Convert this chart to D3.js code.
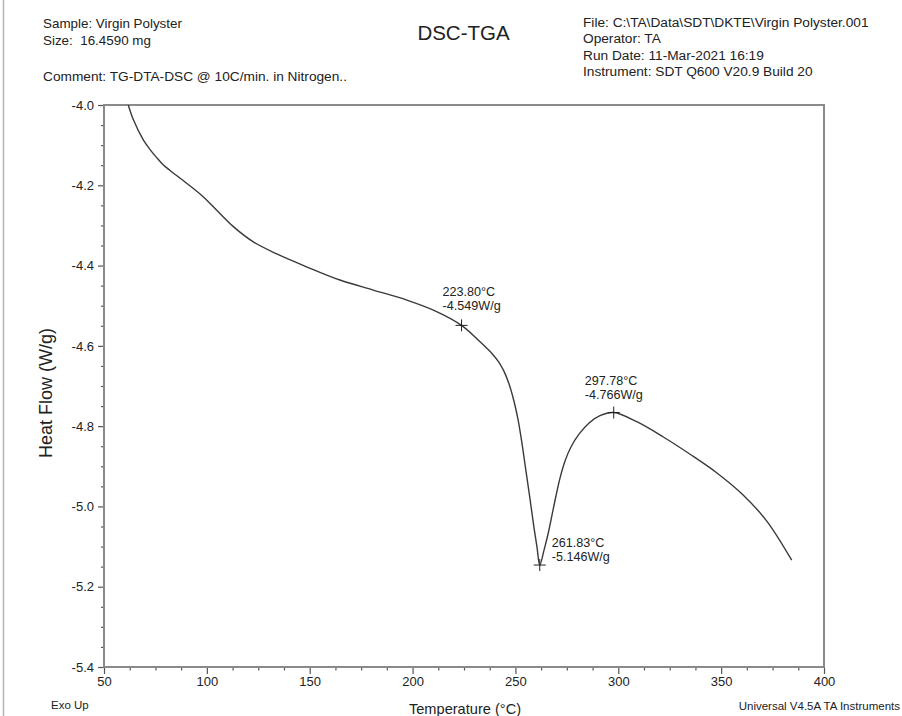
<!DOCTYPE html>
<html>
<head>
<meta charset="utf-8">
<script src="https://cdn.jsdelivr.net/npm/d3@7"></script>
<style>
  html, body { margin: 0; padding: 0; background: #fff; }
  svg { display: block; font-family: "Liberation Sans", Arial, sans-serif; }
</style>
</head>
<body>
<svg id="chart" width="902" height="716"></svg>
<script>
//

// temperature (°C) and heat flow (W/g)
const temperature = [
  61.8, 64.3, 69.1, 72.4, 75.6, 79.0, 82.1, 90.2, 98.3, 104.8, 112.9, 122.6,
  134.0, 148.5, 164.7, 180.9, 197.2, 210.1, 223.8, 232.8, 239.1, 242.0,
  244.4, 246.9, 249.3, 251.25, 252.95, 254.65, 257.1, 259.0, 260.5, 261.83,
  263.9, 265.8, 267.8, 269.7, 271.7, 274.1, 277.0, 280.9, 285.8, 291.1,
  297.78, 309.0, 321.9, 334.9, 347.8, 360.8, 372.1, 384.3
]
const heatFlow = [
  -4.000, -4.037, -4.087, -4.111, -4.131, -4.150, -4.163, -4.195, -4.229, -4.262, -4.303, -4.341,
  -4.371, -4.403, -4.436, -4.461, -4.486, -4.511, -4.549, -4.590, -4.622, -4.641,
  -4.663, -4.695, -4.738, -4.783, -4.835, -4.895, -4.982, -5.052, -5.102, -5.146,
  -5.109, -5.070, -5.021, -4.974, -4.929, -4.887, -4.852, -4.820, -4.792, -4.774,
  -4.766, -4.789, -4.827, -4.870, -4.916, -4.972, -5.036, -5.134
]

// labelled points
const peakTemps = [223.80, 261.83, 297.78]
const peakFlows = [-4.549, -5.146, -4.766]

const xTicks = [50, 100, 150, 200, 250, 300, 350, 400]
const yTicks = [-4.0, -4.2, -4.4, -4.6, -4.8, -5.0, -5.2, -5.4]

const headerLeft = ['Sample: Virgin Polyster', 'Size:  16.4590 mg']
const headerComment = 'Comment: TG-DTA-DSC @ 10C/min. in Nitrogen..'
const headerRight = [
  'File: C:\\TA\\Data\\SDT\\DKTE\\Virgin Polyster.001',
  'Operator: TA',
  'Run Date: 11-Mar-2021 16:19',
  'Instrument: SDT Q600 V20.9 Build 20'
]

//

const plot = {left: 104, top: 105, right: 824, bottom: 667}
const frameColor = '#8a8a8a'
const inkColor = '#222'

const svg = d3.select('#chart')

const x = d3.scaleLinear().domain([50, 400]).range([plot.left, plot.right])
const y = d3.scaleLinear().domain([-4.0, -5.4]).range([plot.top, plot.bottom])

// page edge line
svg.append('line')
  .attr('x1', 3.5).attr('x2', 3.5)
  .attr('y1', 0).attr('y2', 716)
  .attr('stroke', '#b5b5b5')
  .attr('stroke-width', 1.5)

//

const header = svg.append('g')
  .attr('fill', inkColor)

header.selectAll('.hl')
  .data(headerLeft)
  .enter().append('text')
  .attr('class', 'hl')
  .attr('x', 43)
  .attr('y', (d, i) => 28 + i * 17)
  .style('font-size', '13.4px')
  .style('white-space', 'pre')
  .text((d) => d)

header.append('text')
  .attr('x', 43)
  .attr('y', 81)
  .style('font-size', '13.7px')
  .text(headerComment)

header.selectAll('.hr')
  .data(headerRight)
  .enter().append('text')
  .attr('class', 'hr')
  .attr('x', 583)
  .attr('y', (d, i) => 27 + i * 16.3)
  .style('font-size', '13.7px')
  .text((d) => d)

svg.append('text')
  .attr('x', 463.5)
  .attr('y', 40)
  .attr('text-anchor', 'middle')
  .attr('fill', inkColor)
  .style('font-size', '20.5px')
  .text('DSC-TGA')

//

const minor = (ticks) => d3.range(0, ticks.length - 1)
  .flatMap((i) => [1, 2, 3].map((k) => ticks[i] + (ticks[i + 1] - ticks[i]) * k / 4))

const xAxis = svg.append('g')
  .attr('transform', `translate(0,${plot.bottom})`)
  .call(d3.axisBottom(x).tickValues(xTicks).tickSize(7).tickPadding(3).tickFormat((d) => d.toFixed(0)))
xAxis.append('g')
  .call(d3.axisBottom(x).tickValues(minor(xTicks)).tickSize(3.5).tickFormat(''))

const yAxis = svg.append('g')
  .attr('transform', `translate(${plot.left},0)`)
  .call(d3.axisLeft(y).tickValues(yTicks).tickSize(6).tickPadding(4).tickFormat((d) => d.toFixed(1)))
yAxis.append('g')
  .call(d3.axisLeft(y).tickValues(minor(yTicks)).tickSize(3).tickFormat(''))

svg.selectAll('.domain').remove()
svg.selectAll('.tick line').attr('stroke', '#555').attr('stroke-width', 1.2)
svg.selectAll('.tick text')
  .attr('fill', inkColor)
  .style('font-size', '13px')
  .style('font-family', '"Liberation Sans", Arial, sans-serif')

// frame
svg.append('rect')
  .attr('x', plot.left)
  .attr('y', plot.top)
  .attr('width', plot.right - plot.left)
  .attr('height', plot.bottom - plot.top)
  .attr('fill', 'none')
  .attr('stroke', frameColor)
  .attr('stroke-width', 2)

//

svg.append('clipPath')
  .attr('id', 'plot-clip')
  .append('rect')
  .attr('x', plot.left).attr('y', plot.top)
  .attr('width', plot.right - plot.left)
  .attr('height', plot.bottom - plot.top)

const line = d3.line()
  .x((i) => x(temperature[i]))
  .y((i) => y(heatFlow[i]))
  .curve(d3.curveCatmullRom.alpha(0.5))

svg.append('path')
  .attr('clip-path', 'url(#plot-clip)')
  .attr('d', line(d3.range(temperature.length)))
  .attr('fill', 'none')
  .attr('stroke', '#3a3a3a')
  .attr('stroke-width', 1.4)

// crosshair markers + labels
const labelOffsets = [[-19, -29], [12, -18], [-29, -27]]

const marks = svg.selectAll('.mark')
  .data(d3.range(peakTemps.length))
  .enter().append('g')
  .attr('class', 'mark')
  .attr('transform', (i) => `translate(${x(peakTemps[i])},${y(peakFlows[i])})`)

marks.append('path')
  .attr('d', 'M-6,0H6M0,-6V6')
  .attr('stroke', '#222')
  .attr('stroke-width', 1)

const markText = marks.append('text')
  .attr('fill', inkColor)
  .style('font-size', '12.6px')
  .attr('transform', (i) => `translate(${labelOffsets[i][0]},${labelOffsets[i][1]})`)
markText.append('tspan')
  .attr('x', 0).attr('y', 0)
  .text((i) => `${peakTemps[i].toFixed(2)}°C`)
markText.append('tspan')
  .attr('x', 0).attr('y', 14)
  .text((i) => `${peakFlows[i].toFixed(3)}W/g`)

//

svg.append('text')
  .attr('transform', `translate(52,393) rotate(-90)`)
  .attr('text-anchor', 'middle')
  .attr('fill', inkColor)
  .style('font-size', '18px')
  .text('Heat Flow (W/g)')

svg.append('text')
  .attr('x', 465)
  .attr('y', 714)
  .attr('text-anchor', 'middle')
  .attr('fill', inkColor)
  .style('font-size', '14.6px')
  .text('Temperature (°C)')

svg.append('text')
  .attr('x', 51)
  .attr('y', 709)
  .attr('fill', inkColor)
  .style('font-size', '11.5px')
  .text('Exo Up')

svg.append('text')
  .attr('x', 900)
  .attr('y', 710)
  .attr('text-anchor', 'end')
  .attr('fill', inkColor)
  .style('font-size', '11.5px')
  .text('Universal V4.5A TA Instruments')
</script>
</body>
</html>
